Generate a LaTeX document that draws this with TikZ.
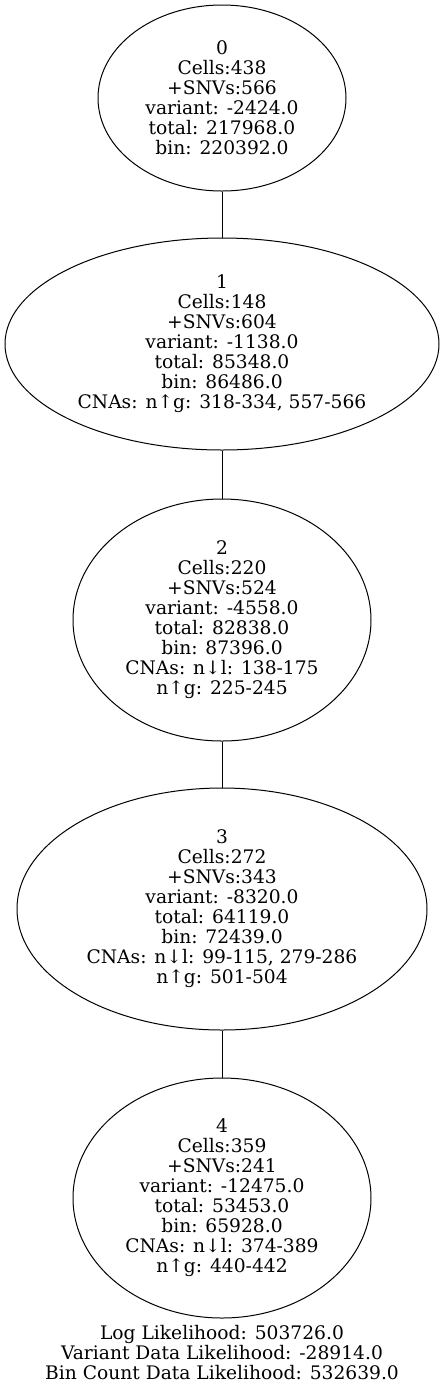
\documentclass[tikz,border=0pt]{standalone}
\usepackage{fontspec}
\setmainfont{DejaVu Serif}
\usepackage{tikz}
\usetikzlibrary{positioning, shapes.geometric}

\tikzset{
	clone/.style={ellipse, draw, line width=0.75pt, inner sep=0pt, align=center,
		font=\fontsize{14pt}{15pt}\selectfont},
	tree edge/.style={draw, line width=0.75pt},
	likelihood/.style={align=center, inner sep=0pt, font=\fontsize{14pt}{15pt}\selectfont}
}

\begin{document}
\begin{tikzpicture}[x=0.75pt, y=-0.75pt]
		\useasboundingbox (0,0) rectangle (444,1390);
		\node[clone, minimum width=186pt, minimum height=139.5pt] (N0) at (222,98)
		{0\\Cells:438\\+SNVs:566\\variant: -2424.0\\total: 217968.0\\bin: 220392.0};
		\node[clone, minimum width=325.5pt, minimum height=159pt] (N1) at (222,344)
		{1\\Cells:148\\+SNVs:604\\variant: -1138.0\\total: 85348.0\\bin: 86486.0\\CNAs: n↑g: 318-334, 557-566};
		\node[clone, minimum width=223.5pt, minimum height=181.5pt] (N2) at (222,620)
		{2\\Cells:220\\+SNVs:524\\variant: -4558.0\\total: 82838.0\\bin: 87396.0\\CNAs: n↓l: 138-175\\n↑g: 225-245};
		\node[clone, minimum width=307.5pt, minimum height=181.5pt] (N3) at (222,909)
		{3\\Cells:272\\+SNVs:343\\variant: -8320.0\\total: 64119.0\\bin: 72439.0\\CNAs: n↓l: 99-115, 279-286\\n↑g: 501-504};
		\node[clone, minimum width=223.5pt, minimum height=180pt] (N4) at (222,1198)
		{4\\Cells:359\\+SNVs:241\\variant: -12475.0\\total: 53453.0\\bin: 65928.0\\CNAs: n↓l: 374-389\\n↑g: 440-442};
		
		\node[likelihood] (LL) at (222,1353)
		{Log Likelihood: 503726.0\\Variant Data Likelihood: -28914.0\\Bin Count Data Likelihood: 532639.0};
		
		\path[tree edge]
		(N0) edge (N1)
		(N1) edge (N2)
		(N2) edge (N3)
		(N3) edge (N4);
	\end{tikzpicture}
\end{document}
